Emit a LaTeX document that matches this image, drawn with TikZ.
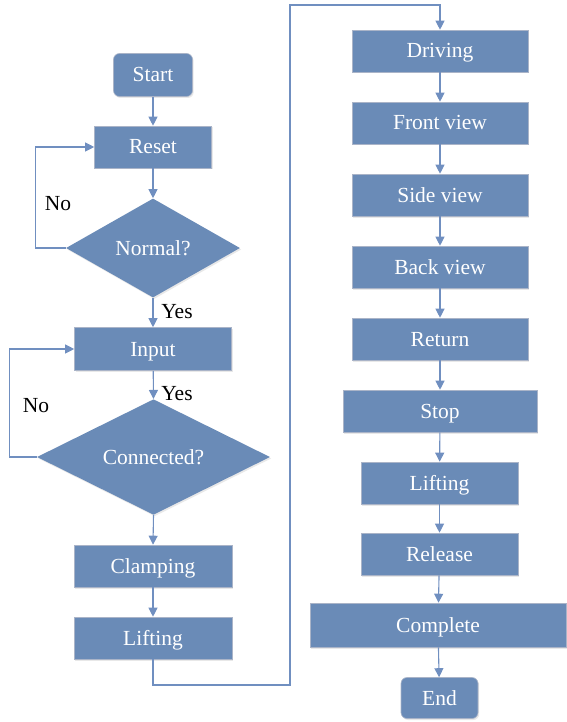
\documentclass[tikz,border=0pt]{standalone}
\usepackage{fontspec}
\setmainfont{Liberation Serif}
\usetikzlibrary{arrows.meta,shapes.geometric,shadows}
\definecolor{boxfill}{RGB}{106,139,183}
\definecolor{boxline}{RGB}{170,180,200}
\definecolor{conn}{RGB}{112,143,192}
\tikzset{
  base/.style={fill=boxfill, draw=boxline, line width=0.6pt, text=white,
    font=\rmfamily\fontsize{21.5}{25}\selectfont, inner sep=0pt,
    text height=14pt, text depth=0pt,
    drop shadow={opacity=0.18, shadow xshift=1.2pt, shadow yshift=-1.5pt}},
  procbox/.style={base, rectangle},
  termbox/.style={base, rectangle, rounded corners=6pt},
  decbox/.style={base, diamond, draw=none},
  conline/.style={draw=conn, line width=1.1pt},
  arr/.style={conline, -{Triangle[length=9pt,width=9pt]}},
  lbl/.style={font=\rmfamily\fontsize{21.5}{25}\selectfont, text=black, inner sep=0pt,
    text height=14pt, text depth=0pt}
}
\begin{document}
\begin{tikzpicture}[x=1pt,y=-1pt]
\useasboundingbox (0,0) rectangle (566,722);
% left column
\node[termbox, minimum width=79, minimum height=43] (start) at (153,75) {Start};
\node[procbox, minimum width=117, minimum height=42] (reset) at (153,147) {Reset};
\node[decbox, minimum width=174, minimum height=99] (normal) at (153,248) {Normal?};
\node[procbox, minimum width=157, minimum height=43] (input) at (153,349) {Input};
\node[decbox, minimum width=233, minimum height=113] (conn) at (153.5,457) {Connected?};
\node[procbox, minimum width=158, minimum height=42] (clamp) at (153,566) {Clamping};
\node[procbox, minimum width=158, minimum height=42] (lift1) at (153,638) {Lifting};
% right column
\node[procbox, minimum width=176, minimum height=42] (drive) at (440,51) {Driving};
\node[procbox, minimum width=176, minimum height=42] (front) at (440,123) {Front view};
\node[procbox, minimum width=176, minimum height=42] (side) at (440,195) {Side view};
\node[procbox, minimum width=176, minimum height=42] (back) at (440,267) {Back view};
\node[procbox, minimum width=176, minimum height=42] (ret) at (440,339) {Return};
\node[procbox, minimum width=194, minimum height=42] (stop) at (440,411) {Stop};
\node[procbox, minimum width=157, minimum height=42] (lift2) at (439.5,483) {Lifting};
\node[procbox, minimum width=157, minimum height=42] (rel) at (439.5,554) {Release};
\node[procbox, minimum width=256, minimum height=44] (comp) at (438,625) {Complete};
\node[termbox, minimum width=77, minimum height=41] (end) at (439.5,698) {End};
% labels
\node[lbl] (no1) at (58,203) {No};
\node[lbl] (yes1) at (177,311) {Yes};
\node[lbl] (no2) at (36,405) {No};
\node[lbl] (yes2) at (177,393) {Yes};
\coordinate (c1) at (290,685);
\coordinate (c2) at (290,5);
% connectors
\draw[arr] (start) -- (reset);
\draw[arr] (reset) -- (normal);
\draw[arr] (normal.west) -- ++(-30,0) |- (reset.west);
\draw[arr] (normal.south) -- (input.north);
\draw[arr] (input) -- (conn.north);
\draw[arr] (conn.west) -- ++(-27,0) |- (input.west);
\draw[arr] (conn.south) -- (clamp.north);
\draw[arr] (clamp) -- (lift1);
\draw[arr] (lift1.south) |- (c1) -- (c2) -| (drive.north);
\draw[arr] (drive) -- (front);
\draw[arr] (front) -- (side);
\draw[arr] (side) -- (back);
\draw[arr] (back) -- (ret);
\draw[arr] (ret) -- (stop);
\draw[arr] (stop) -- (lift2);
\draw[arr] (lift2) -- (rel);
\draw[arr] (rel) -- (comp);
\draw[arr] (comp) -- (end);
\end{tikzpicture}
\end{document}
